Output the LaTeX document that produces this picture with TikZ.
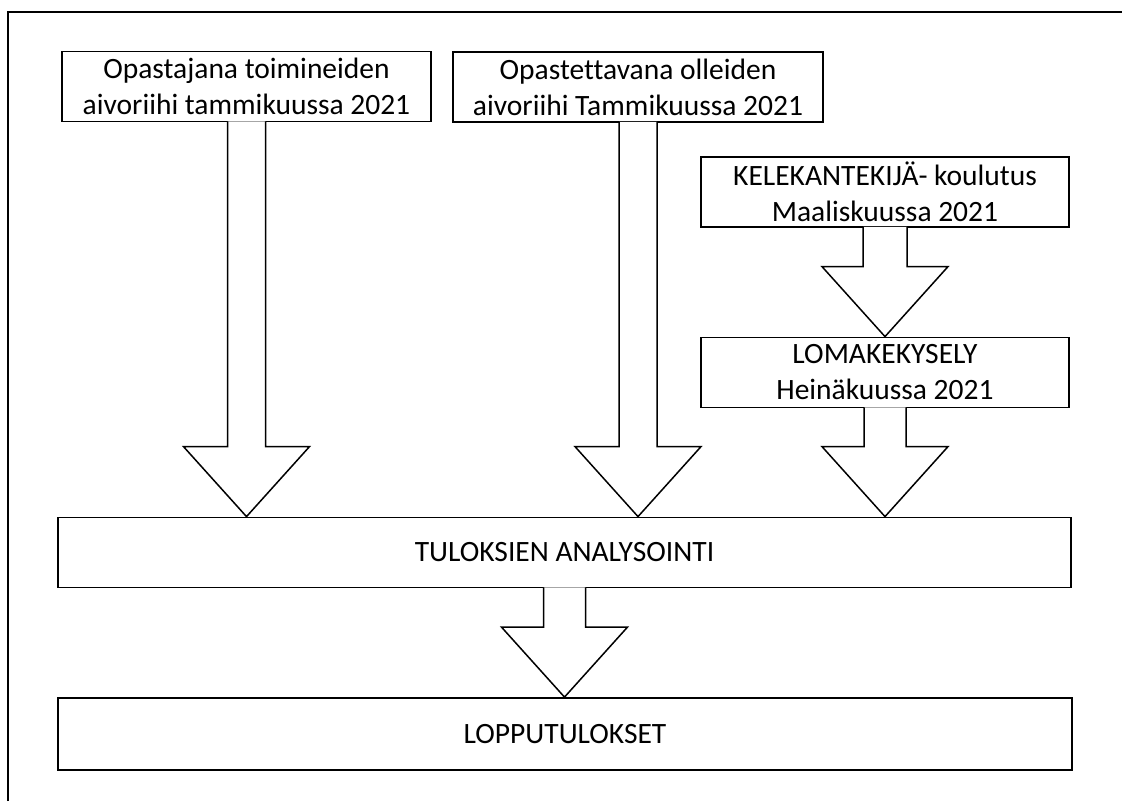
\documentclass[tikz,border=0pt]{standalone}
\usepackage{fontspec}
\setmainfont{Carlito}[Ligatures={NoCommon}]
\usetikzlibrary{calc}
\tikzset{
  box/.style={draw, line width=1.8pt, fill=white, minimum height=70pt, align=center, inner sep=0pt},
  fatarrow/.style={draw, line width=1.5pt, fill=white, line join=miter},
  frameline/.style={line width=2pt},
}
% block arrow from the bottom of #2 down to the top of #3, #1 = half shaft width
\newcommand{\blockarrow}[3][21pt]{%
  \path[fatarrow] let \p1=(#2.south), \p2=(#2.south |- #3.north) in
    (\x1-#1,\y1+1pt) -- (\x1-#1,\y2+70pt) -- (\x1-63pt,\y2+70pt) -- (\x2,\y2)
    -- (\x1+63pt,\y2+70pt) -- (\x1+#1,\y2+70pt) -- (\x1+#1,\y1+1pt);
}

\begin{document}
\begin{tikzpicture}[x=1pt, y=-1pt, font=\fontsize{29.5}{36}\selectfont]
\useasboundingbox (0,0) rectangle (1122,801);
\draw[frameline] (8,801) -- (8,12) -- (1122,12);

\node[box, minimum width=369pt] (opastajat) at (246.5,86.5) {Opastajana toimineiden\\aivoriihi tammikuussa 2021};
\node[box, minimum width=370pt] (opastettavat) at (638,87) {Opastettavana olleiden\\aivoriihi Tammikuussa 2021};
\node[box, minimum width=368pt] (koulutus) at (885,192) {KELEKANTEKIJÄ- koulutus\\Maaliskuussa 2021};
\node[box, minimum width=368pt] (kysely) at (885,372.5) {LOMAKEKYSELY\\Heinäkuussa 2021};
\node[box, minimum width=1013pt] (analyysi) at (564.5,552.5) {TULOKSIEN ANALYSOINTI};
\node[box, minimum width=1014pt, minimum height=72pt] (tulokset) at (565,734) {LOPPUTULOKSET};

\blockarrow[19pt]{opastajat}{analyysi}
\blockarrow[19pt]{opastettavat}{analyysi}
\blockarrow[22pt]{koulutus}{kysely}
\blockarrow{kysely}{analyysi}
\blockarrow{analyysi}{tulokset}
\end{tikzpicture}
\end{document}
